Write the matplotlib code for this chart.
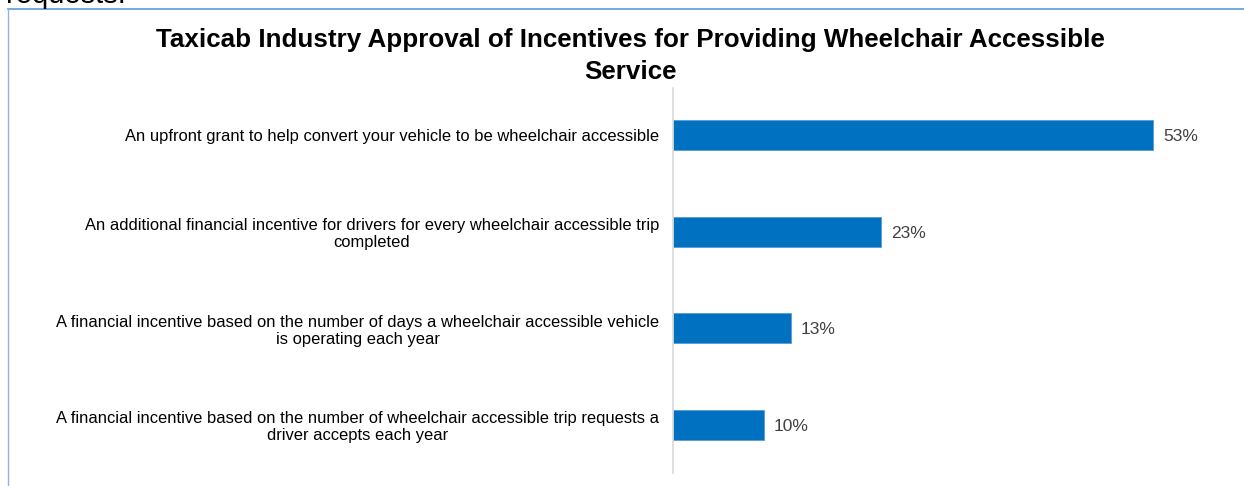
import matplotlib
matplotlib.use("Agg")
import matplotlib.pyplot as plt
from matplotlib.lines import Line2D

plt.rcParams['font.family'] = ['Liberation Sans', 'DejaVu Sans']

categories = [
    "An upfront grant to help convert your vehicle to be wheelchair accessible",
    "An additional financial incentive for drivers for every wheelchair accessible trip\ncompleted",
    "A financial incentive based on the number of days a wheelchair accessible vehicle\nis operating each year",
    "A financial incentive based on the number of wheelchair accessible trip requests a\ndriver accepts each year",
]
values = [53, 23, 13, 10]
title = "Taxicab Industry Approval of Incentives for Providing Wheelchair Accessible\nService"

W, H = 1244, 486
fig = plt.figure(figsize=(W / 100, H / 100), dpi=100)

# axes placed in pixel terms: left at the grey axis line
ax = fig.add_axes([673 / W, 1 - 473 / H, 543.6 / W, (473 - 88) / H])
ypos = list(range(len(values)))
bars = ax.barh(ypos, values, height=0.31, color='#0070c0', edgecolor='#5b9bd5', linewidth=0.6)
ax.set_xlim(0, 60)
ax.set_ylim(3.5, -0.49)

for b, v in zip(bars, values):
    ax.text(b.get_width() + 1.1, b.get_y() + b.get_height() / 2 + 0.015, "%d%%" % v,
            va='center', ha='left', fontsize=12.5, color='#404040')

ax.set_yticks(ypos)
ax.set_yticklabels(categories, fontsize=11.9, color='#000000')
for lbl in ax.get_yticklabels():
    lbl.set_multialignment('center')
    lbl.set_linespacing(1.15)
ax.tick_params(axis='y', length=0, pad=10)
ax.set_xticks([])
for s in ['top', 'right', 'bottom']:
    ax.spines[s].set_visible(False)
ax.spines['left'].set_color('#d9d9d9')
ax.spines['left'].set_linewidth(1.2)

fig.text(630 / W, 1 - 56 / H, title, ha='center', va='center', fontsize=18.7,
         fontweight='bold', linespacing=1.42)

# page border and the clipped text above the chart box
fig.add_artist(Line2D([8 / W, 1], [1 - 9 / H, 1 - 9 / H], color='#5b9bd5', lw=1.2))
fig.add_artist(Line2D([8 / W, 8 / W], [0, 1 - 9 / H], color='#8db3e2', lw=1.0))
fig.text(6 / W, 1 - 3 / H, "requests.", ha='left', va='baseline', fontsize=21)

fig.savefig("out.png", dpi=100)
